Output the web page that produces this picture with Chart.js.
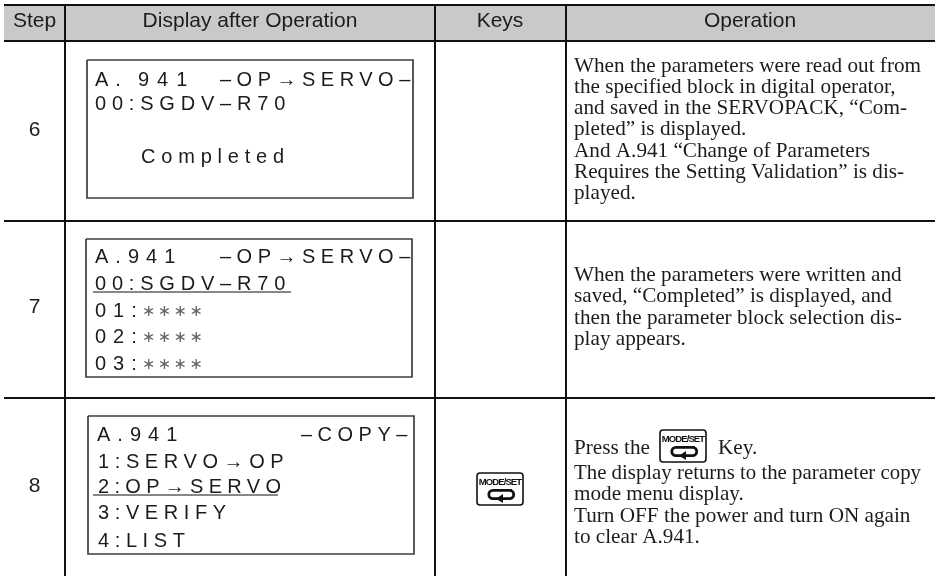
<!DOCTYPE html>
<html>
<head>
<meta charset="utf-8">
<style>
  html, body { margin: 0; padding: 0; background: #fff; overflow: hidden; }
  canvas { display: block; }
</style>
<script src="https://cdn.jsdelivr.net/npm/chart.js@4"></script>
</head>
<body>
<canvas id="table-chart" width="935" height="576"></canvas>
<script>
// Table content
const headers = ['Step', 'Display after Operation', 'Keys', 'Operation'];
const steps = ['6', '7', '8'];
const display6 = ['A.', '941', '–OP→SERVO–', '00:SGDV–R70', 'Completed'];
const display7 = ['A.941', '–OP→SERVO–', '00:SGDV–R70', '01:', '02:', '03:'];
const display8 = ['A.941', '–COPY–', '1:SERVO→OP', '2:OP→SERVO', '3:VERIFY', '4:LIST'];
const maskText = '∗∗∗∗';
const operation6 = [
  'When the parameters were read out from',
  'the specified block in digital operator,',
  'and saved in the SERVOPACK, “Com-',
  'pleted” is displayed.',
  'And A.941 “Change of Parameters',
  'Requires the Setting Validation” is dis-',
  'played.'
];
const operation7 = [
  'When the parameters were written and',
  'saved, “Completed” is displayed, and',
  'then the parameter block selection dis-',
  'play appears.'
];
const operation8 = [
  'Press the',
  'The display returns to the parameter copy',
  'mode menu display.',
  'Turn OFF the power and turn ON again',
  'to clear A.941.'
];
const keyWord = 'Key.';
const keyLabel = 'MODE/SET';

// Layout, in page units of the two axes
const tableLeft = 4, tableRight = 935, pageBottom = 576;
const columnX = [65, 435, 566];
const ruleY = [5, 41, 221, 398];
const headerCenters = [34.5, 250, 500, 750];
const headerBaseline = 27;
const stepBaselines = [136, 313, 492];
const lcdBoxes = [[87, 60, 413, 198], [86, 239, 412, 377], [88, 416, 414, 554]];
const lcdUnderlines = [[93, 292, 291], [93, 495, 278]];
const display6Pos = [[95, 86, 7], [138, 86, 8], [220, 86, 5.5], [95, 110, 5.8], [141, 163, 5.8]];
const display7Pos = [[95, 263, 7], [220, 263, 5.5], [95, 290, 5.8], [95, 317, 7], [95, 343, 7], [95, 370, 7]];
const display8Pos = [[97, 441, 7], [301, 441, 5.5], [98, 468, 5.6], [98, 493, 5.3], [98, 519, 5.6], [98, 547, 5.6]];
const maskPos = [[142, 316], [142, 342], [142, 369]];
const operationX = 574;
const operationWidth = 347;
const operation6Y = [72, 93, 114, 135, 157, 178, 199];
const operation7Y = [281, 302, 324, 345];
const operation8Y = [454, 479, 500, 522, 543];
const keyWordX = 718;
const keyIcons = [[477, 473], [660, 430]];

const lineColor = '#111';
const boxColor = '#3c3c3c';
const textColor = '#1c1c1c';

function segment(x1, y1, x2, y2, color, width) {
  return {
    data: [{ x: x1, y: y1 }, { x: x2, y: y2 }],
    showLine: true, borderColor: color, borderWidth: width,
    pointRadius: 0, fill: false, tension: 0
  };
}

function boxLine(b) {
  return {
    data: [{ x: b[0], y: b[1] }, { x: b[2], y: b[1] }, { x: b[2], y: b[3] }, { x: b[0], y: b[3] }, { x: b[0], y: b[1] }],
    showLine: true, borderColor: boxColor, borderWidth: 1.7,
    pointRadius: 0, fill: false, tension: 0, borderJoinStyle: 'miter'
  };
}

const datasets = [];
ruleY.forEach(y => datasets.push(segment(tableLeft, y, tableRight, y, lineColor, 2)));
columnX.forEach(x => datasets.push(segment(x, ruleY[0], x, pageBottom, lineColor, 2)));
lcdBoxes.forEach(b => datasets.push(boxLine(b)));
lcdUnderlines.forEach(u => datasets.push(segment(u[0], u[1], u[2], u[1], lineColor, 1)));

function drawKeyIcon(ctx, sx, sy, ox, oy) {
  const x = sx(ox), y = sy(oy);
  ctx.save();
  ctx.strokeStyle = '#111';
  ctx.fillStyle = '#111';
  ctx.lineWidth = 1.6;
  ctx.beginPath();
  ctx.roundRect(x, y, 46, 32, 3);
  ctx.stroke();

  ctx.font = 'bold 9.5px "Liberation Sans"';
  ctx.textAlign = 'center';
  ctx.letterSpacing = '-0.9px';
  ctx.fillText(keyLabel, x + 23, y + 11.5);
  ctx.letterSpacing = '0px';

  // return arrow
  ctx.lineWidth = 2.8;
  ctx.beginPath();
  ctx.moveTo(x + 35, y + 17.3);
  ctx.lineTo(x + 16, y + 17.3);
  ctx.arc(x + 16, y + 21.5, 4.2, -Math.PI / 2, Math.PI / 2, true);
  ctx.lineTo(x + 32.5, y + 25.7);
  ctx.arc(x + 32.5, y + 21.5, 4.2, Math.PI / 2, -Math.PI / 2, true);
  ctx.stroke();
  ctx.beginPath();
  ctx.moveTo(x + 19, y + 25.7);
  ctx.lineTo(x + 26, y + 21);
  ctx.lineTo(x + 26, y + 30);
  ctx.closePath();
  ctx.fill();
  ctx.restore();
}

const tablePlugin = {
  id: 'tablePlugin',
  beforeDatasetsDraw(chart) {
    const ctx = chart.ctx;
    const sx = v => chart.scales.x.getPixelForValue(v);
    const sy = v => chart.scales.y.getPixelForValue(v);
    ctx.save();
    ctx.fillStyle = '#c9c9c9';
    ctx.fillRect(sx(tableLeft), sy(ruleY[0]), sx(tableRight) - sx(tableLeft), sy(ruleY[1]) - sy(ruleY[0]));
    ctx.restore();
  },
  afterDatasetsDraw(chart) {
    const ctx = chart.ctx;
    const sx = v => chart.scales.x.getPixelForValue(v);
    const sy = v => chart.scales.y.getPixelForValue(v);
    ctx.save();
    ctx.fillStyle = textColor;
    ctx.textBaseline = 'alphabetic';

    // header and step numbers
    ctx.font = '21px "Liberation Sans"';
    ctx.textAlign = 'center';
    headers.forEach((h, i) => ctx.fillText(h, sx(headerCenters[i]), sy(headerBaseline)));
    steps.forEach((s, i) => ctx.fillText(s, sx(headerCenters[0]), sy(stepBaselines[i])));

    // operator displays
    ctx.textAlign = 'left';
    ctx.font = '20px "Liberation Sans"';
    const drawRuns = (runs, pos) => runs.forEach((t, i) => {
      ctx.letterSpacing = pos[i][2] + 'px';
      ctx.fillText(t, sx(pos[i][0]), sy(pos[i][1]));
    });
    drawRuns(display6, display6Pos);
    drawRuns(display7, display7Pos);
    drawRuns(display8, display8Pos);

    ctx.fillStyle = '#666';
    ctx.font = '16px "DejaVu Sans"';
    ctx.letterSpacing = '2.4px';
    maskPos.forEach(p => ctx.fillText(maskText, sx(p[0]), sy(p[1])));
    ctx.letterSpacing = '0px';

    // operation column
    ctx.fillStyle = textColor;
    ctx.font = '21.2px "Liberation Serif"';
    const drawLines = (lines, ys) => lines.forEach((t, i) => ctx.fillText(t, sx(operationX), sy(ys[i]), operationWidth));
    drawLines(operation6, operation6Y);
    drawLines(operation7, operation7Y);
    drawLines(operation8, operation8Y);
    ctx.fillText(keyWord, sx(keyWordX), sy(operation8Y[0]));
    ctx.restore();

    keyIcons.forEach(k => drawKeyIcon(ctx, sx, sy, k[0], k[1]));
  }
};

new Chart(document.getElementById('table-chart'), {
  type: 'scatter',
  data: { datasets },
  options: {
    responsive: false,
    animation: false,
    layout: { padding: 0 },
    plugins: { legend: { display: false }, tooltip: { enabled: false } },
    scales: {
      x: { type: 'linear', min: 0, max: 935, display: false },
      y: { type: 'linear', min: 0, max: 576, reverse: true, display: false }
    }
  },
  plugins: [tablePlugin]
});
</script>
</body>
</html>
